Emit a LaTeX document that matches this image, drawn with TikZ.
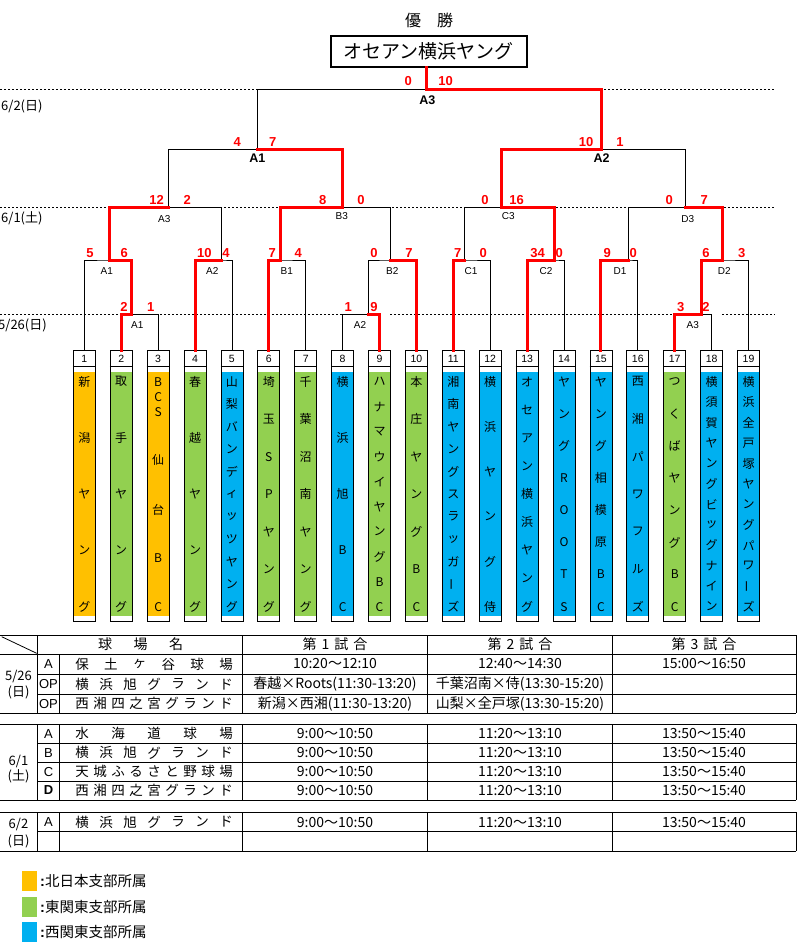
\documentclass[tikz,border=0pt]{standalone}
\usepackage{fontspec}
\usepackage{graphicx}
\setmainfont{Liberation Sans}
\newfontfamily\jp{Noto Sans CJK JP}
\definecolor{winred}{HTML}{FF0000}
\definecolor{kita}{HTML}{FFC000}
\definecolor{higashi}{HTML}{92D050}
\definecolor{nishi}{HTML}{00B0F0}
\newcommand\vbar{\rotatebox[origin=c]{90}{ー}}
\tikzset{
  bk/.style={line width=0.8pt},
  win/.style={winred,line width=3pt,line cap=rect},
  dotline/.style={line width=0.8pt,dash pattern=on 2pt off 2pt},
  score/.style={text=winred,font=\fontsize{13}{13}\selectfont\bfseries,inner sep=0pt},
  mlab/.style={font=\fontsize{10}{10}\selectfont,inner sep=0pt},
  flab/.style={font=\fontsize{12.5}{12}\selectfont\bfseries,inner sep=0pt},
  teambox/.style={draw,line width=0.8pt,minimum width=22pt,minimum height=271pt,inner sep=0pt,anchor=north},
  numlab/.style={font=\fontsize{10.5}{10}\selectfont,inner sep=0pt},
  vch/.style={font=\jp\fontsize{12}{12}\selectfont,inner sep=0pt},
  cell/.style={font=\jp\fontsize{14}{14}\selectfont,inner sep=0pt},
  dcell/.style={font=\jp\fontsize{13}{13}\selectfont,inner sep=0pt},
  vcell/.style={font=\jp\fontsize{13.5}{14}\selectfont,inner sep=0pt},
  cellr/.style={font=\fontsize{13}{12}\selectfont,inner sep=0pt},
  dlab/.style={font=\jp\fontsize{13}{13}\selectfont,inner sep=0pt,anchor=west},
  leg/.style={font=\jp\fontsize{14.5}{14}\selectfont,inner sep=0pt,anchor=west}
}

\begin{document}
\begin{tikzpicture}[x=1pt,y=-1pt]
  \useasboundingbox (0,0) rectangle (797,942);
  % title
  \node[font=\jp\fontsize{16}{16}\selectfont,inner sep=0pt] (yusho) at (429,20.7) {優　勝};
  \node[draw,line width=2pt,minimum width=196pt,minimum height=31pt,inner sep=0pt,
        font=\jp\fontsize{19}{19}\selectfont] (champ) at (428.7,51.2) {オセアン横浜ヤング};
  % day lines
  \draw[dotline] (0,89.3) -- (775,89.3);
  \draw[dotline] (0,207.3) -- (775,207.3);
  \draw[dotline] (0,314.3) -- (380,314.3) (390,314.3) -- (712,314.3) (722,314.3) -- (775,314.3);
  \node[dlab] (d62) at (1,106) {6/2(日)};
  \node[dlab] (d61) at (1,218) {6/1(土)};
  \node[dlab] (d526) at (-2,325) {5/26(日)};
  % teams
  \foreach \i/\c in {1/kita,2/higashi,3/kita,4/higashi,5/nishi,6/higashi,7/higashi,8/nishi,9/higashi,10/higashi,
                     11/nishi,12/nishi,13/nishi,14/nishi,15/nishi,16/nishi,17/higashi,18/nishi,19/nishi}{
    \pgfmathsetmacro\cx{84.3+(\i-1)*36.9}
    \fill[\c] (\cx-11,372.3) rectangle (\cx+11,616);
    \node[teambox] (team\i) at (\cx,350) {};
    \draw[bk] (team\i.north west) ++(0,16) -- ++(22,0);
    \node[numlab] (num\i) at (\cx,358.5) {\i};
    \coordinate (t\i) at (team\i.north);
  }
  \foreach \i/\n/\t in {1/5/{新,潟,ヤ,ン,グ}, 2/5/{取,手,ヤ,ン,グ}, 4/5/{春,越,ヤ,ン,グ},
      5/11/{山,梨,バ,ン,デ,ィ,ッ,ツ,ヤ,ン,グ}, 6/7/{埼,玉,S,P,ヤ,ン,グ}, 7/7/{千,葉,沼,南,ヤ,ン,グ},
      8/5/{横,浜,旭,B,C}, 9/10/{ハ,ナ,マ,ウ,イ,ヤ,ン,グ,B,C}, 10/7/{本,庄,ヤ,ン,グ,B,C},
      11/11/{湘,南,ヤ,ン,グ,ス,ラ,ッ,ガ,\vbar,ズ}, 12/6/{横,浜,ヤ,ン,グ,侍}, 13/9/{オ,セ,ア,ン,横,浜,ヤ,ン,グ},
      14/8/{ヤ,ン,グ,R,O,O,T,S}, 15/8/{ヤ,ン,グ,相,模,原,B,C}, 16/7/{西,湘,パ,ワ,フ,ル,ズ},
      17/8/{つ,く,ば,ヤ,ン,グ,B,C}, 18/12/{横,須,賀,ヤ,ン,グ,ビ,ッ,グ,ナ,イ,ン},
      19/12/{横,浜,全,戸,塚,ヤ,ン,グ,パ,ワ,\vbar,ズ}}{
    \pgfmathsetmacro\cx{84.3+(\i-1)*36.9}
    \foreach \ch [count=\k] in \t {
      \node[vch] (ch\i-\k) at (\cx,{381.7+(\k-1)*225/(\n-1)}) {\ch};
    }
  }
  \foreach \y/\ch [count=\k] in {381.7/B,396.7/C,411.7/S,460/仙,509.5/台,558.3/B,606.7/C}
    \node[vch] (ch3-\k) at (158.1,\y) {\ch};
  % bracket
  \foreach \m/\x/\y in {m1A1/131.7/314.3, m1A2/368.3/314.3, m1A3/701/314.3,
      m2A1/109.3/260, m2A2/221/260, m2B1/280/260, m2B2/390/260, m2C1/464.3/260, m2C2/554/260,
      m2D1/628/260, m2D2/722.3/260, m3A3/168.3/207.3, m3B3/342.7/207.3, m3C3/501.7/207.3,
      m3D3/685.7/207.3, m4A1/257.3/149.3, m4A2/601.7/149.3, fin/426.7/89.3}
    \coordinate (\m) at (\x,\y);
  \foreach \m/\l/\r in {m1A1/t2/t3, m1A2/t8/t9, m1A3/t17/t18, m2A1/t1/m1A1, m2A2/t4/t5, m2B1/t6/t7,
      m2B2/m1A2/t10, m2C1/t11/t12, m2C2/t13/t14, m2D1/t15/t16, m2D2/m1A3/t19, m3A3/m2A1/m2A2,
      m3B3/m2B1/m2B2, m3C3/m2C1/m2C2, m3D3/m2D1/m2D2, m4A1/m3A3/m3B3, m4A2/m3C3/m3D3, fin/m4A1/m4A2}
    \draw[bk] (\l) |- (\m) -| (\r);
  \foreach \w/\m in {t2/m1A1, t9/m1A2, t17/m1A3, m1A1/m2A1, t4/m2A2, t6/m2B1, t10/m2B2, t11/m2C1,
      t13/m2C2, t15/m2D1, m1A3/m2D2, m2A1/m3A3, m2B1/m3B3, m2C2/m3C3, m2D2/m3D3, m3B3/m4A1,
      m3C3/m4A2, m4A2/fin}
    \draw[win] (\w) |- (\m);
  \draw[win] (fin) -- (fin |- champ.south);
  % scores
  \foreach \x/\y/\s [count=\k] in {408.3/81/0, 445.7/81/10, 237.3/141.7/4, 272.7/141.7/7, 586/141.7/10,
      620/141.7/1, 156.7/200/12, 187.3/200/2, 322.7/200/8, 361/200/0, 485/200/0, 516.7/200/16,
      669.3/200/0, 704.3/200/7, 90/252.7/5, 124.3/252.7/6, 204.3/252.7/10, 226/252.7/4,
      272.3/252.7/7, 298.3/252.7/4, 374/252.7/0, 409/252.7/7, 457.7/252.7/7, 483.3/252.7/0,
      537.7/252.7/34, 559.3/252.7/0, 607.3/252.7/9, 633.3/252.7/0, 706/252.7/6, 741.7/252.7/3,
      124/306.7/2, 150.7/306.7/1, 348.3/306.7/1, 374/306.7/9, 680.7/306.7/3, 706/306.7/2}
    \node[score] (sc\k) at (\x,\y) {\s};
  % match labels
  \foreach \x/\y/\t [count=\k] in {137.3/325/A1, 360/325/A2, 692.7/325/A3, 106.7/271/A1, 212.3/271/A2,
      286.7/271/B1, 392.3/271/B2, 471/271/C1, 546/271/C2, 620/271/D1, 724.3/271/D2,
      164.3/219/A3, 341.7/216/B3, 508.3/216/C3, 687.7/219/D3}
    \node[mlab] (ml\k) at (\x,\y) {\t};
  \node[flab] (fl1) at (257.3,158.3) {A1};
  \node[flab] (fl2) at (601.7,158.3) {A2};
  \node[flab] (fl3) at (427.3,100) {A3};
  % schedule table
  \foreach \y in {635,654,713.3,724.3,800,812.3,851} \draw[bk] (0,\y) -- (796,\y);
  \foreach \y in {674.3,694,743.3,762.3,781,831.7} \draw[bk] (37.3,\y) -- (796,\y);
  \foreach \x in {37.3,242.3,427.7,612.3,796} \draw[bk] (\x,635) -- (\x,654);
  \foreach \a/\b in {654/713.3,724.3/800,812.3/851}
    \foreach \x in {37.3,59.7,242.3,427.7,612.3,796} \draw[bk] (\x,\a) -- (\x,\b);
  \draw[bk] (1.7,636.7) -- (36.7,653.3);
  \foreach \x/\ch [count=\k] in {105/球,140.5/場,176/名} \node[cell] (hv\k) at (\x,644.5) {\ch};
  \node[cell] (h1) at (335,644.5) {第\hspace{5pt}1\hspace{5pt}試\hspace{5pt}合};
  \node[cell] (h2) at (520,644.5) {第\hspace{5pt}2\hspace{5pt}試\hspace{5pt}合};
  \node[cell] (h3) at (704,644.5) {第\hspace{5pt}3\hspace{5pt}試\hspace{5pt}合};
  \foreach \y/\t [count=\k] in {676.5/{5/26}, 692.5/(日), 761/{6/1}, 776.5/(土), 824.5/{6/2}, 841.5/(日)}
    \node[dcell] (dt\k) at (18.5,\y) {\t};
  \foreach \y/\t [count=\k] in {664/A, 684.2/OP, 703.7/OP, 733.8/A, 752.8/B, 771.7/C, 790.5/\textbf{D}, 822/A}
    \node[cellr] (lt\k) at (48.5,\y) {\t};
  \foreach \y/\n/\t [count=\r] in {664/6/{保,土,ヶ,谷,球,場}, 684.2/7/{横,浜,旭,グ,ラ,ン,ド},
      703.7/9/{西,湘,四,之,宮,グ,ラ,ン,ド}, 733.8/5/{水,海,道,球,場}, 752.8/7/{横,浜,旭,グ,ラ,ン,ド},
      771.7/9/{天,城,ふ,る,さ,と,野,球,場}, 790.5/9/{西,湘,四,之,宮,グ,ラ,ン,ド},
      822/7/{横,浜,旭,グ,ラ,ン,ド}}{
    \foreach \ch [count=\k] in \t {
      \node[vcell] (vn\r-\k) at ({82+(\k-1)*144/(\n-1)},\y) {\ch};
    }
  }
  \node[cell] (g11) at (335,664) {10:20〜12:10};
  \node[cell] (g12) at (520,664) {12:40〜14:30};
  \node[cell] (g13) at (704,664) {15:00〜16:50};
  \node[cell] (g21) at (335,684.2) {春越×Roots(11:30-13:20)};
  \node[cell] (g22) at (520,684.2) {千葉沼南×侍(13:30-15:20)};
  \node[cell] (g31) at (335,703.7) {新潟×西湘(11:30-13:20)};
  \node[cell] (g32) at (520,703.7) {山梨×全戸塚(13:30-15:20)};
  \foreach \y [count=\k] in {733.8,752.8,771.7,790.5,822}{
    \node[cell] (ta\k) at (335,\y) {9:00〜10:50};
    \node[cell] (tb\k) at (520,\y) {11:20〜13:10};
    \node[cell] (tc\k) at (704,\y) {13:50〜15:40};
  }
  % legend
  \foreach \c/\y/\t [count=\k] in {kita/881.3/北日本支部所属, higashi/907.3/東関東支部所属, nishi/932.3/西関東支部所属}{
    \fill[\c] (21.7,\y-10) rectangle (37.3,\y+10);
    \node[leg] (lg\k) at (40,\y) {{\rmfamily\bfseries :}\t};
  }
\end{tikzpicture}
\end{document}
